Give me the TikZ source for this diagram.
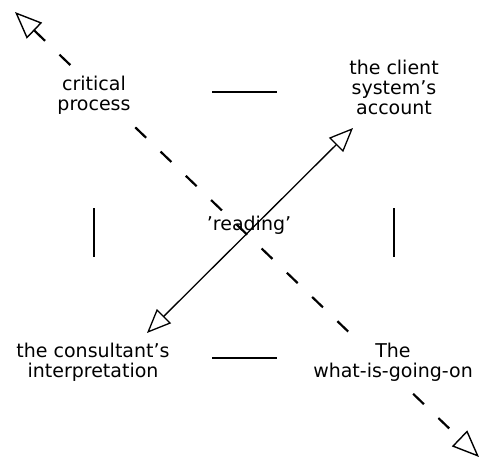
\documentclass[tikz,border=0pt]{standalone}
\usepackage{fontspec}
\setmainfont{DejaVu Sans}
\usetikzlibrary{arrows.meta}
\tikzset{x=1pt,y=-1pt,
lbl/.style={align=center,inner sep=1pt,font=\fontsize{19}{20}\selectfont},
lblw/.style={lbl,fill=white},
opentip/.tip={Triangle[open,length=24pt,width=20pt]},
bigtip/.tip={Triangle[open,length=27pt,width=22pt]},
dashline/.style={line width=2.2pt,dash pattern=on 15pt off 20pt,
  {bigtip[line width=1.4pt]}-{bigtip[line width=1.4pt]}},
readline/.style={line width=1.3pt,{opentip}-{opentip}},
bar/.style={line width=1.3pt},
}

\begin{document}
\begin{tikzpicture}
	\useasboundingbox (0,0) rectangle (481,459);

	% the two directions
	\coordinate (crit) at (15,12);
	\coordinate (going) at (479,457);
	\coordinate (acc) at (353,128);
	\coordinate (inter) at (147,333);

	\draw[dashline] (crit) -- (going);
	\draw[readline] (inter) -- (acc);

	\node[lblw] (cp) at (94,95) {critical\\process};
	\node[lbl] (cs) at (394,87) {the client\\system's\\account};
	\node[lbl] (rd) at (249,225) {'reading'};
	\node[lbl] (ci) at (93,362) {the consultant's\\interpretation};
	\node[lblw] (wg) at (393,362) {The\\what-is-going-on};

	% short bars between the corners
	\coordinate (t1) at (212,92);  \coordinate (t2) at (277,92);
	\coordinate (b1) at (212,358); \coordinate (b2) at (277,358);
	\coordinate (l1) at (94,208);  \coordinate (l2) at (94,257);
	\coordinate (r1) at (394,208); \coordinate (r2) at (394,257);

	\path[bar]
	(t1) edge (t2)
	(b1) edge (b2)
	(l1) edge (l2)
	(r1) edge (r2)
	;
\end{tikzpicture}
\end{document}
